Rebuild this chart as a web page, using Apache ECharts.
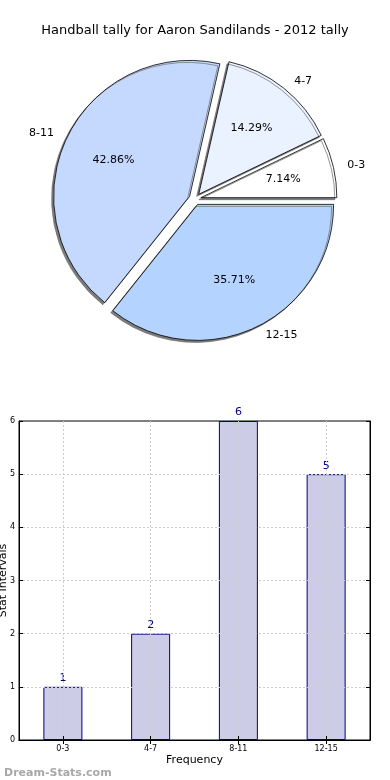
<!DOCTYPE html>
<html>
<head>
<meta charset="utf-8">
<script src="https://cdn.jsdelivr.net/npm/echarts@6/dist/echarts.min.js"></script>
<style>
html,body{margin:0;padding:0;background:#fff;}
#c{width:390px;height:780px;}
</style>
</head>
<body>
<div id="c"></div>
<script>
const titleText = 'Handball tally for Aaron Sandilands - 2012 tally';
const categories = ['0-3', '4-7', '8-11', '12-15'];
const counts = [1, 2, 6, 5];
const pieColors = ['#ffffff', '#eaf1ff', '#c5d9ff', '#b4d4ff'];
const yTicks = [0, 1, 2, 3, 4, 5, 6];
const xName = 'Frequency';
const yName = 'Stat Intervals';
const watermark = 'Dream-Stats.com';

const FONT = 'DejaVu Sans';
const R = 136;
const CX = 195, CY = 199;

const pieData = categories.map((c, i) => ({
  name: c, value: counts[i], selected: true,
  itemStyle: { color: pieColors[i] }
}));

const gridLine = { color: '#cccccc', type: [2, 2], width: 1 };

const chart = echarts.init(document.getElementById('c'), null, { renderer: 'canvas' });
chart.setOption({
  animation: false,
  backgroundColor: '#ffffff',
  textStyle: { fontFamily: FONT },
  title: [
    { text: titleText, left: 'center', top: 19,
      textStyle: { fontFamily: FONT, fontSize: 13, fontWeight: 'normal', color: '#000' } },
    { text: watermark, left: -1, top: 763,
      textStyle: { fontFamily: FONT, fontSize: 11, fontWeight: 'bold', color: '#a8a8a8' } }
  ],
  grid: { left: 19, right: 20, top: 421, bottom: 40, show: true, borderColor: '#000', borderWidth: 1,
    backgroundColor: 'transparent', containLabel: false, outerBoundsMode: 'none' },
  xAxis: [{
    type: 'category', data: categories, boundaryGap: true, z: 5,
    name: xName, nameLocation: 'middle', nameGap: 15, nameMoveOverlap: false,
    nameTextStyle: { fontFamily: FONT, fontSize: 11, color: '#000' },
    axisLine: { show: true, lineStyle: { color: '#000' } },
    axisTick: { show: true, inside: true, alignWithLabel: true, length: 4, lineStyle: { color: '#000' } },
    axisLabel: { fontFamily: FONT, fontSize: 8, color: '#000', margin: 5 },
    splitLine: { show: true, alignWithLabel: true, lineStyle: gridLine }
  }, {
    type: 'category', data: categories, position: 'top', boundaryGap: true, z: 6,
    axisLine: { show: true, lineStyle: { color: '#000' } },
    axisTick: { show: true, inside: true, alignWithLabel: true, length: 4, lineStyle: { color: '#000' } },
    axisLabel: { show: false }, splitLine: { show: false }
  }],
  yAxis: [{
    type: 'value', min: 0, max: 6, interval: 1, z: 5,
    name: yName, nameLocation: 'middle', nameGap: 10, nameRotate: 90, nameMoveOverlap: false,
    nameTextStyle: { fontFamily: FONT, fontSize: 11, color: '#000' },
    axisLine: { show: true, lineStyle: { color: '#000' } },
    axisTick: { show: true, inside: true, length: 4, lineStyle: { color: '#000' } },
    axisLabel: { fontFamily: FONT, fontSize: 8, color: '#000', margin: 4,
      formatter: v => yTicks.includes(v) ? String(v) : '' },
    splitLine: { show: true, showMinLine: false, showMaxLine: false, lineStyle: gridLine }
  }, {
    type: 'value', min: 0, max: 6, interval: 1, position: 'right', z: 6,
    axisLine: { show: true, lineStyle: { color: '#000' } },
    axisTick: { show: true, inside: true, length: 4, lineStyle: { color: '#000' } },
    axisLabel: { show: false }, splitLine: { show: false }
  }],
  series: [
    {
      type: 'pie', center: [CX, CY], radius: [0, R],
      startAngle: 0, clockwise: false,
      selectedMode: 'multiple', selectedOffset: 6,
      avoidLabelOverlap: false, silent: true,
      emphasis: { disabled: true },
      data: pieData,
      itemStyle: { borderColor: '#000', borderWidth: 0.8,
        shadowColor: 'rgba(110,110,110,0.9)', shadowBlur: 0, shadowOffsetX: -2, shadowOffsetY: 2 },
      label: { show: true, position: 'outside', fontFamily: FONT, fontSize: 11, color: '#000',
        distanceToLabelLine: 5, formatter: '{b}' },
      labelLine: { show: false, length: 9, length2: 0 },
      z: 1
    },
    {
      type: 'pie', center: [CX, CY], radius: [R * 0.5, R * 0.7],
      startAngle: 0, clockwise: false,
      selectedMode: 'multiple', selectedOffset: 6,
      avoidLabelOverlap: false, silent: true,
      emphasis: { disabled: true },
      data: categories.map((c, i) => ({ name: c, value: counts[i], selected: true })),
      itemStyle: { color: 'rgba(0,0,0,0)', borderWidth: 0 },
      label: { show: true, position: 'inside', fontFamily: FONT, fontSize: 11, color: '#000',
        formatter: p => p.percent.toFixed(2) + '%' },
      labelLine: { show: false },
      z: 3
    },
    {
      type: 'bar', xAxisIndex: 0, yAxisIndex: 0, data: counts, barWidth: 39,
      itemStyle: { color: 'rgba(0,0,128,0.2)', borderColor: '#000080', borderWidth: 1 },
      label: { show: true, position: 'top', distance: 3, fontFamily: FONT, fontSize: 11, color: '#000080' },
      emphasis: { disabled: true },
      z: 2
    }
  ]
});
</script>
</body>
</html>
